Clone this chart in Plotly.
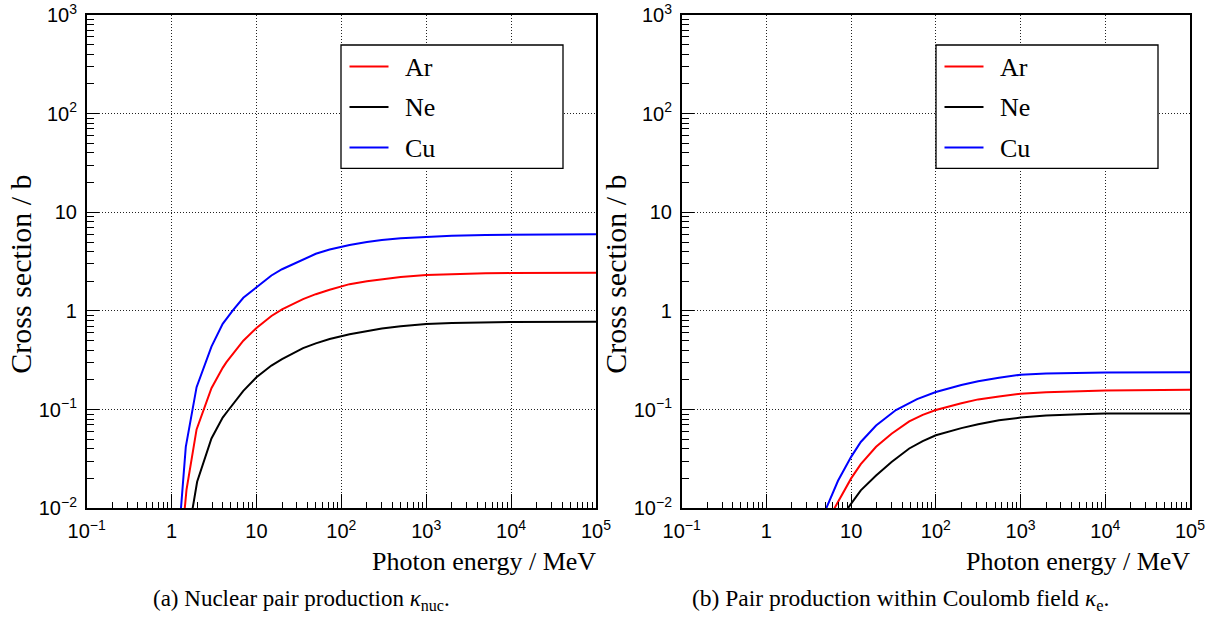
import plotly.graph_objects as go

# ---------------- data ----------------
# (a) nuclear pair production kappa_nuc  [E in MeV, sigma in barn]
ar_nuc_E = [1.43, 1.5, 1.97, 2.95, 4, 4.43, 7, 10, 15, 20, 35.4, 50, 72.8, 125, 200, 300, 500, 1000, 2000, 5000, 1e4, 1e5]
ar_nuc_s = [0.01, 0.0155, 0.063, 0.165, 0.265, 0.303, 0.50, 0.673, 0.89, 1.04, 1.32, 1.48, 1.64, 1.87, 2.0, 2.10, 2.21, 2.31, 2.37, 2.41, 2.42, 2.44]
ne_nuc_E = [1.77, 2.0, 2.95, 4, 4.63, 7, 10, 15, 20, 35.4, 50, 72.8, 125, 200, 300, 500, 1000, 2000, 5000, 1e4, 1e5]
ne_nuc_s = [0.01, 0.0186, 0.051, 0.083, 0.098, 0.155, 0.213, 0.28, 0.325, 0.42, 0.47, 0.52, 0.58, 0.63, 0.665, 0.70, 0.739, 0.757, 0.77, 0.774, 0.78]
cu_nuc_E = [1.29, 1.47, 1.97, 2.95, 4, 5.3, 7, 10, 15, 20, 35.4, 50, 72.8, 125, 200, 300, 500, 1000, 2000, 5000, 1e4, 1e5]
cu_nuc_s = [0.01, 0.042, 0.169, 0.436, 0.74, 1.02, 1.36, 1.73, 2.29, 2.65, 3.35, 3.8, 4.19, 4.67, 5.0, 5.25, 5.47, 5.67, 5.8, 5.9, 5.94, 5.98]

# (b) pair production within Coulomb field kappa_e
ar_e_E = [6.36, 10, 13, 19.7, 30, 48.5, 70, 100, 200, 316, 556, 1000, 2000, 5000, 1e4, 1e5]
ar_e_s = [0.01, 0.0201, 0.028, 0.042, 0.057, 0.076, 0.0885, 0.099, 0.116, 0.127, 0.136, 0.145, 0.150, 0.154, 0.156, 0.159]
ne_e_E = [9.12, 13, 19.7, 30, 48.5, 70, 100, 200, 316, 556, 1000, 2000, 5000, 1e4, 1e5]
ne_e_s = [0.01, 0.0152, 0.0215, 0.0295, 0.0404, 0.048, 0.055, 0.065, 0.071, 0.078, 0.083, 0.087, 0.090, 0.0912, 0.0912]
cu_e_E = [5.08, 7, 10, 13, 19.7, 33.8, 60, 100, 200, 316, 556, 1000, 2000, 5000, 1e4, 1e5]
cu_e_s = [0.01, 0.019, 0.0332, 0.047, 0.069, 0.099, 0.128, 0.151, 0.178, 0.194, 0.21, 0.226, 0.232, 0.236, 0.238, 0.24]

species = ["Ar", "Ne", "Cu"]
colors = {"Ar": "#ff0000", "Ne": "#000000", "Cu": "#0000ff"}

x_tickvals = [0.1, 1, 10, 100, 1000, 1e4, 1e5]
x_ticktext = ["10<sup>\u22121</sup>", "1", "10", "10<sup>2</sup>", "10<sup>3</sup>", "10<sup>4</sup>", "10<sup>5</sup>"]
y_tickvals = [0.01, 0.1, 1, 10, 100, 1000]
y_ticktext = ["10<sup>\u22122</sup>", "10<sup>\u22121</sup>", "1", "10", "10<sup>2</sup>", "10<sup>3</sup>"]

x_title = "Photon energy / MeV"
y_title = "Cross section / b"
caption_a = "(a) Nuclear pair production <i>\u03ba</i><sub>nuc</sub>."
caption_b = "(b) Pair production within Coulomb field <i>\u03ba</i><sub>e</sub>."

# ---------------- figure ----------------
W, H = 1215, 617
fig = go.Figure()

panel_data = [
    {"Ar": (ar_nuc_E, ar_nuc_s), "Ne": (ne_nuc_E, ne_nuc_s), "Cu": (cu_nuc_E, cu_nuc_s)},
    {"Ar": (ar_e_E, ar_e_s), "Ne": (ne_e_E, ne_e_s), "Cu": (cu_e_E, cu_e_s)},
]

for p, pdata in enumerate(panel_data):
    xa = "x" if p == 0 else "x2"
    ya = "y" if p == 0 else "y2"
    for sp in species:
        E, s = pdata[sp]
        fig.add_trace(go.Scatter(
            x=E, y=s, mode="lines", name=sp,
            line=dict(color=colors[sp], width=2),
            xaxis=xa, yaxis=ya, showlegend=False, cliponaxis=True,
        ))

# pixel geometry
left_px = [(86.7, 596.0), (681.7, 1190.0)]
top_px, bot_px = 15.0, 508.3

minor_x = [m * 10 ** k for k in range(-1, 5) for m in range(2, 10)]
minor_y = [m * 10 ** k for k in range(-2, 3) for m in range(2, 10)]

tickfont = dict(family="Liberation Sans, Arial, sans-serif", size=20, color="black")
GRID = dict(showgrid=True, gridcolor="#222222", griddash="1px,2px", gridwidth=1)

def xaxis(dom, anchor):
    return dict(
        type="log", range=[-1, 5], domain=dom, anchor=anchor, automargin=False,
        tickmode="array", tickvals=x_tickvals, ticktext=x_ticktext,
        ticks="inside", ticklen=15, tickwidth=1, tickcolor="black",
        minor=dict(tickmode="array", tickvals=minor_x, ticks="inside", ticklen=7,
                   tickcolor="black", tickwidth=1, showgrid=False),
        showline=True, linecolor="black", linewidth=1.5, mirror=True,
        tickfont=tickfont, zeroline=False, ticklabelstandoff=4, **GRID,
    )

def yaxis(anchor):
    return dict(
        type="log", range=[-2, 3], domain=[1 - bot_px / H, 1 - top_px / H], anchor=anchor,
        automargin=False,
        tickmode="array", tickvals=y_tickvals, ticktext=y_ticktext,
        ticks="inside", ticklen=13, tickwidth=1, tickcolor="black",
        minor=dict(tickmode="array", tickvals=minor_y, ticks="inside", ticklen=8,
                   tickcolor="black", tickwidth=1, showgrid=False),
        showline=True, linecolor="black", linewidth=1.5, mirror=True,
        tickfont=tickfont, zeroline=False, ticklabelstandoff=4, **GRID,
    )

dom1 = [left_px[0][0] / W, left_px[0][1] / W]
dom2 = [left_px[1][0] / W, left_px[1][1] / W]

serif = "Liberation Serif, Times New Roman, serif"

fig.update_layout(
    width=W, height=H, margin=dict(l=0, r=0, t=0, b=0, autoexpand=False),
    paper_bgcolor="white", plot_bgcolor="white",
    xaxis=xaxis(dom1, "y"), yaxis=yaxis("x"),
    xaxis2=xaxis(dom2, "y2"), yaxis2=yaxis("x2"),
    showlegend=False,
)

# legends (frame, line samples, labels) for both panels
legend_rows_y = [66.5, 107, 147.5]
for (l, r) in left_px:
    off = l - left_px[0][0]
    bx0, bx1 = 341 + off, 563 + off
    fig.add_shape(type="rect", xref="paper", yref="paper",
                  x0=bx0 / W, x1=bx1 / W, y0=1 - 168.3 / H, y1=1 - 45 / H,
                  line=dict(color="black", width=1.3), fillcolor="white", layer="above")
    for sp, yy in zip(species, legend_rows_y):
        fig.add_shape(type="line", xref="paper", yref="paper",
                      x0=(349.5 + off) / W, x1=(388.5 + off) / W,
                      y0=1 - yy / H, y1=1 - yy / H,
                      line=dict(color=colors[sp], width=2), layer="above")
        fig.add_annotation(text=sp, xref="paper", yref="paper",
                           x=(403 + off) / W, y=1 - (yy + 1) / H, xanchor="left", yanchor="middle",
                           showarrow=False, font=dict(family=serif, size=26, color="black"))

# axis titles
for (l, r) in left_px:
    fig.add_annotation(text=x_title, xref="paper", yref="paper",
                       x=(r + 2) / W, y=1 - 561 / H, xanchor="right", yanchor="middle",
                       showarrow=False, font=dict(family=serif, size=26, color="black"))
    fig.add_annotation(text=y_title, xref="paper", yref="paper",
                       x=(l - 66) / W, y=1 - 274 / H, xanchor="center", yanchor="middle",
                       textangle=-90, showarrow=False,
                       font=dict(family=serif, size=30, color="black"))

# captions
fig.add_annotation(text=caption_a, xref="paper", yref="paper", x=301 / W, y=1 - 600 / H,
                   xanchor="center", yanchor="middle", showarrow=False,
                   font=dict(family=serif, size=23, color="black"))
fig.add_annotation(text=caption_b, xref="paper", yref="paper", x=900 / W, y=1 - 600 / H,
                   xanchor="center", yanchor="middle", showarrow=False,
                   font=dict(family=serif, size=23.5, color="black"))

fig.write_html("out.html")
